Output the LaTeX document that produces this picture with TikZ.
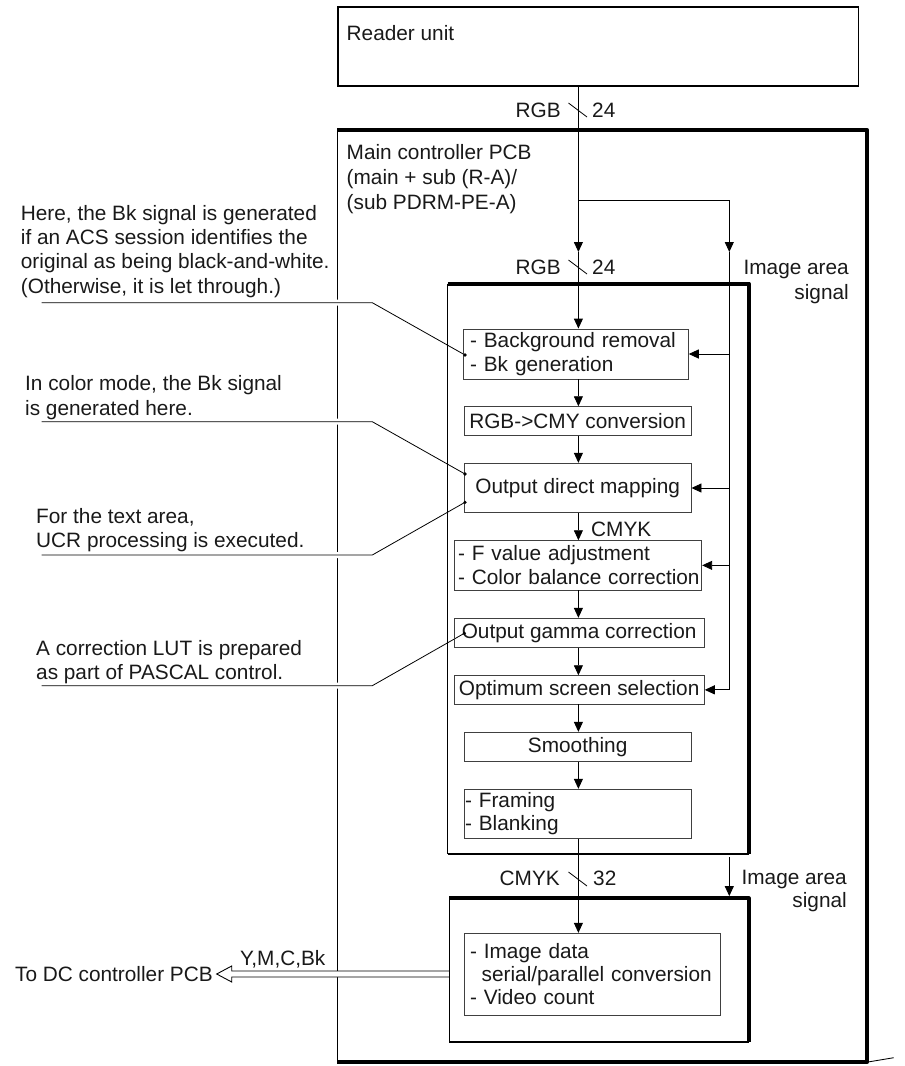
\documentclass[tikz,border=0pt]{standalone}
\usepackage{fontspec}
\setmainfont{Liberation Sans}
\usetikzlibrary{arrows.meta,calc}
\pgfdeclarelayer{bg}
\pgfsetlayers{bg,main}
\begin{document}
\begin{tikzpicture}[x=1pt,y=-1pt,
  every node/.style={font=\fontsize{20.8pt}{24.3pt}\selectfont, inner sep=0pt, text=black!90},
  arr/.style={line width=0.9pt, -{Triangle[length=10pt,width=9pt]}},
  blk/.style={draw=black!75, line width=0.9pt},
  lead/.style={line width=0.8pt, preaction={draw=white, line width=6pt}},
  thickb/.style={line width=4.2pt, line join=round},
  thinb/.style={line width=1.3pt},
]
\useasboundingbox (0,0) rectangle (905,1066);

% containers (invisible nodes, borders drawn below)
\node[draw, thinb, minimum width=520.4pt, minimum height=79pt] (reader) at (598.2,46.5) {};
\node[minimum width=529pt, minimum height=932pt] (pcb) at (602,596) {};
\node[minimum width=300.3pt, minimum height=570.3pt] (inner) at (598.15,568.85) {};
\node[minimum width=298.8pt, minimum height=143.4pt] (outbox) at (598.9,970) {};

% texts
\node[anchor=base west] (readert) at (346.5,40.4) {Reader unit};
\node[anchor=north west, align=left, font=\fontsize{20.8pt}{25pt}\selectfont] (pcbt) at (346.5,141.9)
  {\strut Main controller PCB\\\strut (main + sub (R-A)/\\\strut (sub PDRM-PE-A)};
\node[anchor=base east] (rgb1) at (561,117.4) {RGB};
\node[anchor=base west] (n24a) at (592,117.4) {24};
\node[anchor=base east] (rgb2) at (561,274.4) {RGB};
\node[anchor=base west] (n24b) at (592,274.4) {24};
\node[anchor=north east, align=right, font=\fontsize{20.8pt}{25pt}\selectfont] (ias1) at (849,256.9)
  {\strut Image area\\\strut signal};
\node[anchor=base west] (cmyk1) at (591,536.7) {CMYK};
\node[anchor=base east] (cmyk2) at (560,885.7) {CMYK};
\node[anchor=base west] (n32) at (593,885.7) {32};
\node[anchor=north east, align=right, font=\fontsize{20.8pt}{23.3pt}\selectfont] (ias2) at (847,867.8)
  {\strut Image area\\\strut signal};
\node[anchor=east] (todc) at (213,974.5) {To DC controller PCB};
\node[anchor=base west] (ymcb) at (240,965.7) {Y,M,C,Bk};

\node[anchor=north west, align=left] (t1) at (20.7,203)
  {\strut Here, the Bk signal is generated\\\strut if an ACS session identifies the\\\strut original as being black-and-white.\\\strut (Otherwise, it is let through.)};
\node[anchor=north west, align=left] (t2) at (25,373.7)
  {\strut In color mode, the Bk signal\\\strut is generated here.};
\node[anchor=north west, align=left] (t3) at (36,506.4)
  {\strut For the text area,\\\strut UCR processing is executed.};
\node[anchor=north west, align=left] (t4) at (36,638)
  {\strut A correction LUT is prepared\\\strut as part of PASCAL control.};

% processing blocks
\node[blk, minimum width=225pt, minimum height=50pt, text width=211.6pt, align=left, inner xsep=6.7pt] (b1) at (575.8,354)
  {\mbox{- Background removal}\\\mbox{- Bk generation}};
\node[blk, minimum width=226.7pt, minimum height=29pt] (b2) at (577.65,421.2) {RGB->CMY conversion};
\node[blk, minimum width=226.7pt, minimum height=49.4pt] (b3) at (577.65,488) {Output direct mapping};
\node[blk, minimum width=247.7pt, minimum height=49.3pt, text width=239.7pt, align=left, inner xsep=4pt] (b4) at (577.85,565.35)
  {\mbox{- F value adjustment}\\\mbox{- Color balance correction}};
\node[blk, minimum width=250.3pt, minimum height=29pt] (b5) at (579.15,632.8) {Output gamma correction};
\node[blk, minimum width=250.3pt, minimum height=28.3pt] (b6) at (579.15,689.85) {Optimum screen selection};
\node[blk, minimum width=226.7pt, minimum height=29pt] (b7) at (577.65,746.8) {Smoothing};
\node[blk, minimum width=226.7pt, minimum height=49pt, text width=225.3pt, align=left, inner xsep=0.7pt,
  font=\fontsize{20.8pt}{22.5pt}\selectfont] (b8) at (577.65,813.8) {\mbox{- Framing}\\\mbox{- Blanking}};
\node[blk, minimum width=256.4pt, minimum height=81.7pt, text width=245pt, align=left, inner xsep=5.7pt,
  font=\fontsize{20.8pt}{23.3pt}\selectfont] (b9) at (592.5,974.15)
  {\mbox{- Image data}\\\mbox{\hspace*{11.7pt}serial/parallel conversion}\\\mbox{- Video count}};

% coordinates
\coordinate (sp) at (578.4,0);
\coordinate (bx) at (729.3,0);
\coordinate (a1) at (578.4,252);
\coordinate (br) at (578.4,200);
\coordinate (br2) at (729.3,200);
\coordinate (a2) at (729.3,252);
\coordinate (ia2s) at (729.3,857);
\coordinate (tip) at (216.7,974);
\coordinate (l1a) at (41.7,302.7);  \coordinate (l1b) at (372.3,302.7); \coordinate (d1) at (465,355);
\coordinate (l2a) at (41.7,421.7);  \coordinate (l2b) at (372.3,421.7); \coordinate (d2) at (465,474);
\coordinate (l3a) at (41.7,555);    \coordinate (l3b) at (372.3,555);   \coordinate (d3) at (465,502.3);
\coordinate (l4a) at (41.7,685.7);  \coordinate (l4b) at (372.3,685.7); \coordinate (d4) at (464.3,633.3);

% main PCB frame and leader lines on background layer
\begin{pgfonlayer}{bg}
\draw[thinb] (pcb.north west) -- (pcb.south west);
\draw[thickb] (pcb.north west) -- (pcb.north east) -- (pcb.south east) -- (pcb.south west);
\draw[line width=0.9pt] (pcb.south east) -- ++(27,-4.5);
\draw[lead] (l1a) -- (l1b) -- (d1);
\draw[lead] (l2a) -- (l2b) -- (d2);
\draw[lead] (l3a) -- (l3b) -- (d3);
\draw[lead] (l4a) -- (l4b) -- (d4);
\end{pgfonlayer}

% signal slash marks
\draw[line width=0.8pt] (568.5,103) -- (587,117);
\draw[line width=0.8pt] (568.5,260) -- (587,274);
\draw[line width=0.8pt] (568.5,872) -- (587,886);

% connectors
\draw[arr] (sp |- reader.south) -- (a1);
\draw[arr] (a1) -- (sp |- b1.north);
\draw[arr] (br) -- (br2) -- (a2);
\draw[arr] (a2) -- (bx |- b6.east) -- (b6.east);
\draw[arr] (bx |- b1.east) -- (b1.east);
\draw[arr] (bx |- b3.east) -- (b3.east);
\draw[arr] (bx |- b4.east) -- (b4.east);
\foreach \u/\v in {b1/b2,b2/b3,b3/b4,b4/b5,b5/b6,b6/b7,b7/b8,b8/b9}
  \draw[arr] (sp |- \u.south) -- (sp |- \v.north);
\draw[arr, shorten >=2pt] (ia2s) -- (bx |- outbox.north);

% leader dots
\foreach \d in {d1,d2,d3,d4} \fill (\d) circle (1.8pt);

% hollow output arrow
\draw[line width=0.9pt, fill=white, line join=miter]
  ($(outbox.west |- tip)+(0,-3)$) -- ($(tip)+(15,-3)$) -- ($(tip)+(15,-8)$) -- (tip)
  -- ($(tip)+(15,8)$) -- ($(tip)+(15,3)$) -- ($(outbox.west |- tip)+(0,3)$);

% inner box frame
\draw[thinb] (inner.north west) -- (inner.south west);
\draw[line width=2pt] (inner.south west) -- (inner.south east);
\draw[line width=4pt, line join=round] (inner.north west) -- (inner.north east) -- (inner.south east);
% output box frame
\draw[thinb] (outbox.north west) -- (outbox.south west);
\draw[line width=2pt] (outbox.south west) -- (outbox.south east);
\draw[line width=4pt, line join=round] (outbox.north west) -- (outbox.north east) -- (outbox.south east);
\end{tikzpicture}
\end{document}
